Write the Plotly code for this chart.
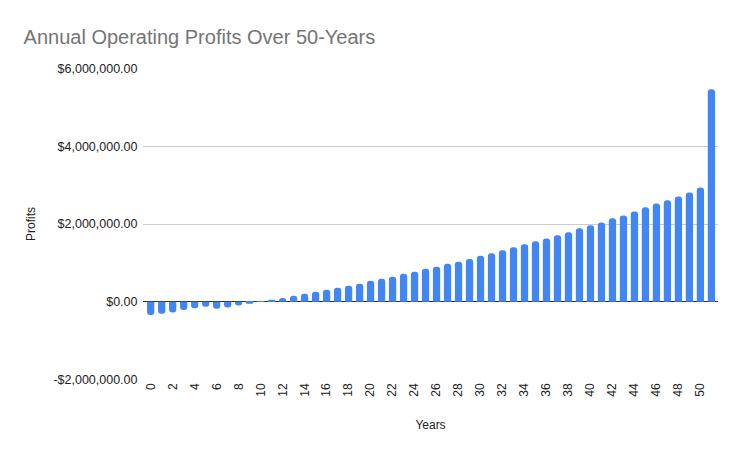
import plotly.graph_objects as go

years = list(range(52))
profits = [
    -340000, -310000, -280000, -215000, -170000, -130000, -180000, -150000,
    -100000, -50000, 5000, 50000, 98000, 154000, 205000, 256000,
    308000, 359000, 410000, 462000, 538000, 590000, 641000, 718000,
    770000, 846000, 897000, 974000, 1026000, 1100000, 1180000, 1248000,
    1325000, 1400000, 1480000, 1556000, 1630000, 1710000, 1790000, 1890000,
    1970000, 2040000, 2150000, 2220000, 2320000, 2430000, 2530000, 2610000,
    2710000, 2810000, 2940000, 5470000,
]
tick_years = list(range(0, 51, 2))
y_ticks = [-2000000, 0, 2000000, 4000000, 6000000]
y_labels = ["-$2,000,000.00", "$0.00", "$2,000,000.00", "$4,000,000.00", "$6,000,000.00"]

font_family = "Arial, Liberation Sans, sans-serif"

fig = go.Figure(
    go.Bar(
        x=years, y=profits,
        marker=dict(color="#4285F4", cornerradius=3, line=dict(width=0)),
    )
)

fig.update_layout(
    width=741, height=455,
    paper_bgcolor="white", plot_bgcolor="white",
    margin=dict(l=135, r=31, t=60, b=83),
    bargap=0.34,
    showlegend=False,
    font=dict(family=font_family, size=12, color="#222222"),
    title=dict(
        text="Annual Operating Profits Over 50-Years",
        x=0.021, xanchor="left", y=0.937, yanchor="middle",
        font=dict(family=font_family, size=20, color="#757575"),
    ),
)
fig.update_xaxes(
    type="linear", range=[-0.7, 51.6], automargin=False,
    tickmode="array", tickvals=tick_years, ticktext=[str(v) for v in tick_years],
    tickangle=-90, showgrid=False, zeroline=False, showline=False, ticks="",
    tickfont=dict(size=12, color="#222222"),
    title=dict(text="Years", font=dict(size=12, color="#222222"), standoff=24),
)
fig.update_yaxes(
    range=[-2015000, 6015000], automargin=False,
    tickmode="array", tickvals=y_ticks, ticktext=y_labels,
    showgrid=True, gridcolor="#cccccc", gridwidth=1,
    zeroline=True, zerolinecolor="#333333", zerolinewidth=1,
    showline=False, ticks="outside", ticklen=2, tickcolor="white",
    tickfont=dict(size=12.5, color="#222222"),
    title=dict(text="Profits", font=dict(size=12, color="#222222"), standoff=15),
)

fig.write_html("out.html")
